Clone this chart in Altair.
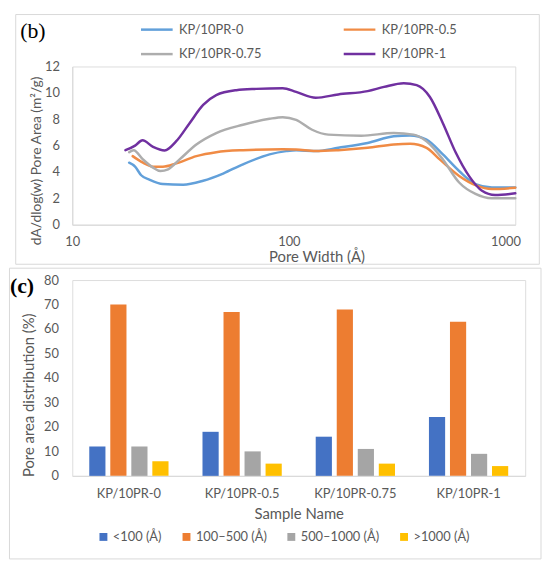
import altair as alt
import pandas as pd

# ---------------- data: panel (b) ----------------
series_names = ["KP/10PR-0", "KP/10PR-0.5", "KP/10PR-0.75", "KP/10PR-1"]
line_colors = ["#62A0DA", "#F08B45", "#ADADAD", "#7030A0"]

width_0 = [18.3, 19.5, 20.8, 22.8, 26.2, 32.5, 40.2, 49.7, 61.4, 81.4, 97.2, 108, 133, 169, 231, 305, 363, 432, 514, 611, 727, 865, 1110]
area_0 = [4.7, 4.4, 3.75, 3.4, 3.08, 3.03, 3.33, 3.88, 4.58, 5.33, 5.58, 5.65, 5.58, 5.83, 6.2, 6.7, 6.77, 6.45, 5.33, 4.07, 3.08, 2.83, 2.83]

width_05 = [19.0, 21.2, 23.6, 26.2, 30.2, 37.4, 46.2, 61.4, 93.7, 108, 133, 169, 231, 305, 363, 432, 497, 611, 727, 865, 1110]
area_05 = [5.2, 4.7, 4.4, 4.4, 4.65, 5.2, 5.5, 5.65, 5.72, 5.7, 5.58, 5.65, 5.83, 6.08, 6.13, 5.83, 4.95, 3.7, 3.0, 2.7, 2.8]

width_075 = [18.3, 19.2, 21.2, 23.6, 25.5, 27.7, 31.3, 37.4, 46.2, 61.4, 81.4, 93.7, 108, 128, 152, 216, 305, 376, 432, 514, 611, 727, 865, 1110]
area_075 = [5.5, 5.65, 4.95, 4.33, 4.07, 4.2, 4.95, 6.08, 6.95, 7.58, 8.03, 8.15, 7.95, 7.2, 6.83, 6.75, 6.95, 6.83, 6.32, 4.95, 3.2, 2.33, 2.0, 2.0]

width_1 = [17.6, 19.5, 21.1, 23.6, 26.7, 30.2, 34.8, 40.2, 46.2, 57.2, 70.7, 93.7, 108, 133, 169, 231, 275, 339, 389, 447, 514, 590, 678, 779, 895, 1110]
area_1 = [5.65, 6.0, 6.4, 5.9, 5.63, 6.33, 7.7, 9.08, 9.83, 10.2, 10.3, 10.35, 10.07, 9.63, 9.88, 10.13, 10.45, 10.73, 10.58, 9.7, 7.7, 5.45, 3.7, 2.57, 2.25, 2.38]

x_ticks = [10, 100, 1000]
y_ticks_b = [0, 2, 4, 6, 8, 10, 12]

# ---------------- data: panel (c) ----------------
size_classes = ["<100 (Å)", "100–500 (Å)", "500–1000 (Å)", ">1000 (Å)"]
bar_colors = ["#4472C4", "#ED7D31", "#A5A5A5", "#FFC000"]
pct_lt100 = [12, 18, 16, 24]
pct_100_500 = [70, 67, 68, 63]
pct_500_1000 = [12, 10, 11, 9]
pct_gt1000 = [6, 5, 5, 4]
y_ticks_c = [0, 10, 20, 30, 40, 50, 60, 70, 80]

rows = []
for name, ws, vs in zip(series_names, [width_0, width_05, width_075, width_1],
                        [area_0, area_05, area_075, area_1]):
    for w, v in zip(ws, vs):
        rows.append({"series": name, "width": w, "area": v})
line_df = pd.DataFrame(rows)

brows = []
for cls, vals in zip(size_classes, [pct_lt100, pct_100_500, pct_500_1000, pct_gt1000]):
    for s, v in zip(series_names, vals):
        brows.append({"sample": s, "cls": cls, "pct": v})
bar_df = pd.DataFrame(brows)

FONT = "Lato"
TXT = "#595959"
GRID = "#D9D9D9"
one = pd.DataFrame({"k": [0]})

# ---------------- panel (b) ----------------
W1, H1 = 448, 160
frame_b = alt.Chart(one).mark_rect(fillOpacity=0, stroke=GRID, strokeWidth=1).encode(
    x=alt.value(-57.2), x2=alt.value(472.3), y=alt.value(-52.5), y2=alt.value(200)
)
label_b = alt.Chart(one).mark_text(
    text="(b)", font="Liberation Serif", fontSize=22, align="left", baseline="middle", color="black"
).encode(x=alt.value(-52.7), y=alt.value(-36))

lines = alt.Chart(line_df).mark_line(interpolate="monotone", strokeWidth=2.5, strokeCap="round").encode(
    x=alt.X("width:Q",
            scale=alt.Scale(type="log", domain=[10, 1110], nice=False),
            axis=alt.Axis(values=x_ticks, format="d", title="Pore Width (Å)", grid=False, ticks=False,
                          domainColor=GRID, labelColor=TXT, labelFont=FONT, labelFontSize=13,
                          labelPadding=11, titleFont=FONT, titleFontSize=15, titleFontWeight="normal",
                          titleColor=TXT, titleX=247, titleY=32, titleAlign="center",
                          titleBaseline="middle", labelFlush=False)),
    y=alt.Y("area:Q",
            scale=alt.Scale(domain=[0, 12], nice=False),
            axis=alt.Axis(values=y_ticks_b, format="d", title="dA/dlog(w) Pore Area (m²/g)", grid=False,
                          ticks=False, domainColor=GRID, labelColor=TXT, labelFont=FONT,
                          labelFontSize=13, labelPadding=13, titleFont=FONT, titleFontSize=14,
                          titleFontWeight="normal", titleColor=TXT, titleX=-36, titleY=95,
                          titleAlign="center", titleBaseline="middle")),
    color=alt.Color("series:N",
                    scale=alt.Scale(domain=series_names, range=line_colors),
                    legend=alt.Legend(title=None, orient="none", legendX=68, legendY=-55, columns=2,
                                      direction="horizontal",
                                      symbolType="stroke", symbolSize=1024, symbolStrokeWidth=2.5,
                                      labelFont=FONT, labelFontSize=13, labelColor=TXT,
                                      labelOffset=5, rowPadding=-15.5, columnPadding=77, padding=0)),
    detail="series:N",
)
panel_b = alt.layer(frame_b, label_b, lines).properties(width=W1, height=H1)

# ---------------- panel (c) ----------------
W2, H2 = 458, 198
frame_c = alt.Chart(one).mark_rect(fillOpacity=0, stroke=GRID, strokeWidth=1).encode(
    x=alt.value(-63.5), x2=alt.value(474), y=alt.value(-12), y2=alt.value(282)
)
label_c = alt.Chart(one).mark_text(
    text="(c)", font="Liberation Serif", fontSize=22, fontWeight="bold", align="left",
    baseline="middle", color="black"
).encode(x=alt.value(-63), y=alt.value(6))

bars = alt.Chart(bar_df).mark_bar().encode(
    x=alt.X("sample:N", sort=series_names,
            scale=alt.Scale(paddingInner=0.3, paddingOuter=0.15),
            axis=alt.Axis(title="Sample Name", labelAngle=0, ticks=False, grid=False, domainColor=GRID,
                          labelColor=TXT, labelFont=FONT, labelFontSize=13, labelPadding=12,
                          titleFont=FONT, titleFontSize=15, titleFontWeight="normal", titleColor=TXT,
                          titleY=38, titleBaseline="middle")),
    xOffset=alt.XOffset("cls:N", sort=size_classes,
                        scale=alt.Scale(paddingInner=0.23, paddingOuter=0)),
    y=alt.Y("pct:Q", scale=alt.Scale(domain=[0, 80], nice=False),
            axis=alt.Axis(values=y_ticks_c, title="Pore area distribution (%)", grid=False, ticks=False,
                          domain=False, labelColor=TXT, labelFont=FONT, labelFontSize=13,
                          labelPadding=14, titleFont=FONT, titleFontSize=15, titleFontWeight="normal",
                          titleColor=TXT, titleX=-44, titleY=116, titleAlign="center",
                          titleBaseline="middle")),
    color=alt.Color("cls:N", sort=size_classes,
                    scale=alt.Scale(domain=size_classes, range=bar_colors),
                    legend=alt.Legend(title=None, orient="none", legendX=25, legendY=253,
                                      direction="horizontal", columns=4, symbolType="square",
                                      symbolSize=64, symbolStrokeWidth=0, labelFont=FONT,
                                      labelFontSize=13, labelColor=TXT, labelOffset=3,
                                      columnPadding=18, padding=0)),
)
panel_c = alt.layer(frame_c, label_c, bars).properties(width=W2, height=H2)

chart = alt.concat(panel_b, panel_c, columns=1, spacing=2, align="none").resolve_scale(
    color="independent", x="independent", y="independent"
).properties(padding=0).configure_view(strokeWidth=0).configure(background="white")

chart.save("out.html", embed_options={"renderer": "svg", "actions": False})
